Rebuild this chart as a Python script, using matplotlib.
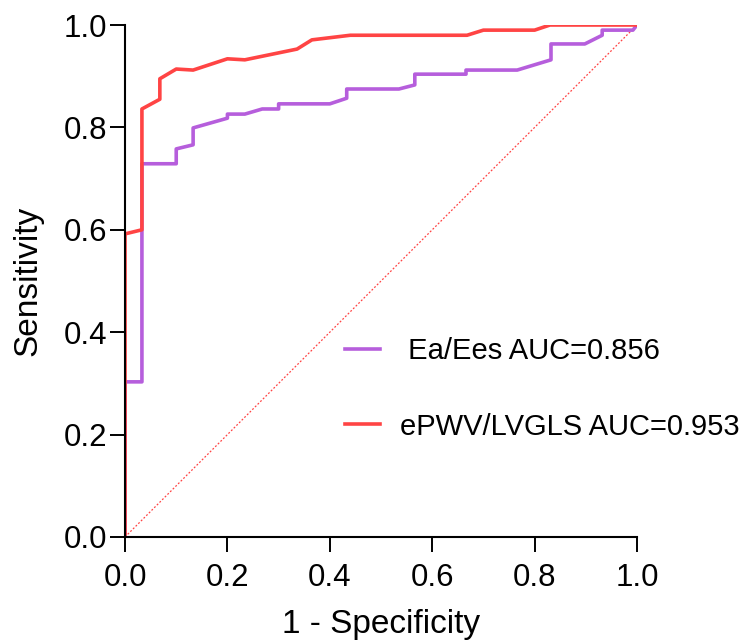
import numpy as np
import matplotlib
matplotlib.use("Agg")
import matplotlib.pyplot as plt

# ROC points (1 - specificity, sensitivity)
ea_fpr  = [0.0, 0.0, 0.033, 0.033, 0.10, 0.10, 0.133, 0.133, 0.20, 0.20, 0.234, 0.268, 0.30,
           0.30, 0.40, 0.433, 0.433, 0.535, 0.566, 0.566, 0.666, 0.666, 0.766, 0.832,
           0.832, 0.898, 0.932, 0.932, 0.992, 1.0]
ea_tpr  = [0.0, 0.303, 0.303, 0.729, 0.729, 0.758, 0.766, 0.799, 0.818, 0.826, 0.826, 0.836, 0.836,
           0.846, 0.846, 0.857, 0.875, 0.875, 0.883, 0.904, 0.904, 0.912, 0.912, 0.932,
           0.963, 0.963, 0.98, 0.99, 0.99, 1.0]

pwv_fpr = [0.0, 0.0, 0.033, 0.033, 0.068, 0.068, 0.10, 0.133, 0.20, 0.234, 0.336, 0.365,
           0.44, 0.668, 0.70, 0.80, 0.83, 1.0]
pwv_tpr = [0.0, 0.592, 0.60, 0.836, 0.855, 0.895, 0.914, 0.912, 0.934, 0.932, 0.953, 0.971,
           0.98, 0.98, 0.99, 0.99, 1.0, 1.0]

labels = [" Ea/Ees AUC=0.856", "ePWV/LVGLS AUC=0.953"]
colors = ["#B65EDC", "#FF4444"]
ticks = [0.0, 0.2, 0.4, 0.6, 0.8, 1.0]

plt.rcParams["font.family"] = ["Liberation Sans", "DejaVu Sans"]

fig = plt.figure(figsize=(7.42, 6.43), dpi=100)
ax = fig.add_axes([0.1685, 0.1649, 0.69, 0.7962])

ax.plot([0, 1], [0, 1], color="#FF4444", lw=0.9, ls=(0, (1.5, 1.5)))
ax.plot(ea_fpr, ea_tpr, color=colors[0], lw=2.6, label=labels[0])
ax.plot(pwv_fpr, pwv_tpr, color=colors[1], lw=2.6, label=labels[1])

ax.set_xlim(0, 1)
ax.set_ylim(0, 1)
ax.set_xticks(ticks)
ax.set_yticks(ticks)
ax.set_xticklabels([f"{v:.1f}" for v in ticks], fontsize=22.5)
ax.set_yticklabels([f"{v:.1f}" for v in ticks], fontsize=22.5)

for s in ["top", "right"]:
    ax.spines[s].set_visible(False)
for s in ["left", "bottom"]:
    ax.spines[s].set_linewidth(1.5)
ax.tick_params(axis="x", length=11, width=1.4, pad=8)
ax.tick_params(axis="y", length=11, width=1.4, pad=2)

ax.set_xlabel("1 - Specificity", fontsize=24, labelpad=11)
ax.set_ylabel("Sensitivity", fontsize=24, labelpad=14)

ax.legend(loc="center left", bbox_to_anchor=(0.465, 0.395), bbox_transform=fig.transFigure,
          frameon=False, fontsize=21, borderpad=0, borderaxespad=0,
          handlelength=1.2, labelspacing=1.62, handletextpad=0.7)

fig.savefig("out.png", dpi=100)
